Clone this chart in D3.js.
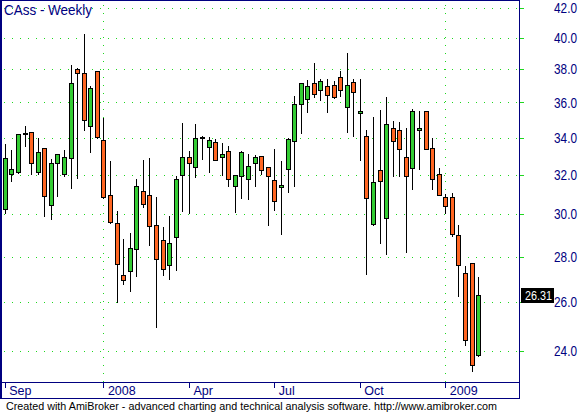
<!DOCTYPE html>
<html>
<head>
<meta charset="utf-8">
<script src="https://cdn.jsdelivr.net/npm/d3@7"></script>
<style>
    html, body { margin: 0; padding: 0; background: #ffffff; }
    svg { display: block; }
</style>
</head>
<body>
<div id="chart"></div>
<script>
// CAss - Weekly candlesticks, Sep 2007 .. Feb 2009 (one bar per week)
const chartTitle = 'CAss - Weekly';
const footerText = 'Created with AmiBroker - advanced charting and technical analysis software. http://www.amibroker.com';

const opens = [
    30.28, 32.02, 32.13, 34.23, 34.30, 32.13, 33.42, 30.45, 32.61, 32.02,
    32.88, 38.03, 37.78, 34.67, 37.90, 33.87, 30.96, 29.57, 27.19, 27.33,
    28.35, 31.16, 30.96, 29.47, 28.77, 27.61, 28.92, 31.97, 32.93, 32.40,
    34.03, 33.48, 33.74, 32.93, 33.26, 31.41, 31.92, 31.77, 32.61, 32.98,
    32.40, 31.72, 31.36, 32.29, 33.80, 35.90, 36.19, 37.16, 36.74, 36.98,
    37.04, 37.52, 35.73, 37.22, 35.38, 34.07, 29.52, 32.24, 29.84, 34.53,
    34.41, 32.93, 32.35, 34.41, 35.50, 33.42, 32.02, 30.86, 30.86, 29.01,
    27.27, 27.71, 23.84
];
const highs = [
    33.69, 33.37, 34.25, 34.70, 34.32, 34.05, 33.45, 32.88, 33.16, 33.38,
    38.34, 38.15, 40.33, 37.06, 37.95, 35.15, 32.79, 30.22, 28.87, 29.16,
    31.82, 32.83, 32.93, 30.92, 29.43, 29.97, 31.98, 34.89, 33.34, 34.81,
    34.14, 34.09, 33.96, 33.74, 33.58, 32.02, 33.32, 33.17, 33.10, 33.00,
    32.42, 33.42, 32.77, 34.03, 36.44, 37.18, 37.40, 38.47, 37.46, 37.46,
    37.34, 37.96, 39.10, 37.46, 37.46, 34.49, 35.21, 35.63, 36.41, 35.00,
    34.94, 34.60, 35.67, 35.57, 35.52, 34.01, 32.40, 31.06, 31.11, 29.52,
    27.62, 27.74, 27.11
];
const lows = [
    30.05, 31.65, 32.08, 33.51, 32.02, 32.02, 29.89, 29.79, 30.89, 31.93,
    31.29, 31.82, 34.43, 33.20, 34.00, 30.80, 29.58, 25.99, 26.79, 26.45,
    27.11, 30.38, 28.55, 24.97, 27.15, 27.00, 27.41, 30.18, 30.05, 31.90,
    32.83, 32.15, 32.75, 31.97, 31.41, 30.13, 30.79, 30.74, 31.41, 32.02,
    29.46, 30.23, 29.04, 31.09, 31.41, 34.24, 35.44, 36.31, 36.13, 35.44,
    36.28, 36.37, 34.33, 34.10, 32.75, 27.21, 29.50, 28.62, 28.11, 31.93,
    31.93, 28.20, 31.27, 32.29, 33.36, 31.27, 30.94, 30.05, 28.96, 26.25,
    24.23, 23.24, 23.82
];
const closes = [
    32.88, 32.29, 34.18, 34.23, 32.61, 33.20, 30.91, 32.61, 33.10, 32.93,
    37.18, 37.76, 34.96, 36.86, 34.05, 30.84, 29.60, 27.64, 26.94, 28.39,
    31.41, 30.50, 29.43, 27.88, 27.44, 28.62, 31.77, 32.93, 32.61, 33.96,
    34.03, 33.85, 32.77, 33.10, 31.77, 31.97, 33.20, 32.45, 32.93, 32.24,
    31.92, 30.65, 31.46, 33.90, 35.90, 37.16, 36.98, 36.50, 37.28, 36.44,
    36.31, 36.74, 37.04, 36.62, 35.49, 30.81, 31.62, 31.67, 34.75, 33.81,
    33.38, 31.92, 35.50, 34.54, 33.38, 31.77, 30.96, 30.41, 29.05, 27.61,
    24.44, 23.46, 26.31
];

const priceTicks = [24, 26, 28, 30, 32, 34, 36, 38, 40, 42];
const timeTickBars = [0, 15, 28, 41, 54, 67];
const timeTickLabels = ['Sep', '2008', 'Apr', 'Jul', 'Oct', '2009'];
const yearBars = [15, 67];

const W = 580, H = 412;
const plot = { left: 0, right: 519, top: 0, bottom: 382 };
const navy = '#000080';
const gridGreen = '#1fd81f';
const upColor = '#33cc33';
const downColor = '#ff6622';
const font = '"Liberation Sans", Arial, sans-serif';

const svg = d3.select('#chart')
    .append('svg')
    .attr('width', W)
    .attr('height', H)
    .style('font-family', font);

svg.append('rect')
    .attr('width', W)
    .attr('height', H)
    .attr('fill', '#ffffff');

const n = opens.length;
const x = d3.scaleBand()
    .domain(d3.range(n))
    .range([2, 2 + n * 6.575]);
const y = d3.scaleLog()
    .domain([24, 42])
    .range([351, 8]);

const cx = i => Math.floor(x(i) + x.bandwidth() / 2) + 0.5;
const py = v => Math.round(y(v)) + 0.5;

// dotted grid
const grid = svg.append('g')
    .attr('stroke', gridGreen)
    .attr('stroke-width', 1)
    .attr('stroke-dasharray', '1,7')
    .attr('shape-rendering', 'crispEdges');

grid.selectAll('.hgrid')
    .data(priceTicks)
    .join('line')
    .attr('class', 'hgrid')
    .attr('x1', 4)
    .attr('x2', plot.right)
    .attr('y1', d => py(d))
    .attr('y2', d => py(d));

grid.selectAll('.vgrid')
    .data(yearBars)
    .join('line')
    .attr('class', 'vgrid')
    .attr('x1', d => cx(d))
    .attr('x2', d => cx(d))
    .attr('y1', 5)
    .attr('y2', plot.bottom);

// candles
const bars = svg.append('g')
    .attr('shape-rendering', 'crispEdges')
    .selectAll('g')
    .data(d3.range(n))
    .join('g');

bars.append('line')
    .attr('x1', i => cx(i))
    .attr('x2', i => cx(i))
    .attr('y1', i => py(highs[i]))
    .attr('y2', i => py(lows[i]))
    .attr('stroke', '#000')
    .attr('stroke-width', 1);

bars.append('rect')
    .attr('x', i => cx(i) - 2)
    .attr('width', 4)
    .attr('y', i => py(Math.max(opens[i], closes[i])))
    .attr('height', i => Math.max(1, py(Math.min(opens[i], closes[i])) - py(Math.max(opens[i], closes[i]))))
    .attr('fill', i => closes[i] > opens[i] ? upColor : (closes[i] < opens[i] ? downColor : '#000'))
    .attr('stroke', '#000')
    .attr('stroke-width', 1);

// right price axis
const yAxis = d3.axisRight(y)
    .tickValues(priceTicks)
    .tickFormat(d3.format('.1f'))
    .tickSize(5)
    .tickPadding(0);

const ya = svg.append('g')
    .attr('transform', `translate(${plot.right}, 0)`)
    .call(yAxis);
ya.select('.domain').remove();
ya.selectAll('line')
    .attr('stroke', gridGreen)
    .attr('shape-rendering', 'crispEdges');
// AmiBroker's axis font is narrow: squeeze the glyphs horizontally
ya.selectAll('text')
    .attr('fill', navy)
    .attr('font-family', font)
    .attr('font-size', '14.5px')
    .attr('x', 0)
    .attr('transform', 'translate(35, 0) scale(0.815, 1)');

// bottom time axis
const xAxis = d3.axisBottom(x)
    .tickValues(timeTickBars)
    .tickFormat((d, k) => timeTickLabels[k])
    .tickSize(5)
    .tickPadding(0);

const xa = svg.append('g')
    .attr('transform', `translate(0, ${plot.bottom + 0.5})`)
    .call(xAxis);
xa.select('.domain').remove();
xa.selectAll('line')
    .attr('stroke', navy)
    .attr('shape-rendering', 'crispEdges');
xa.selectAll('text')
    .attr('fill', navy)
    .attr('font-family', font)
    .attr('font-size', '12.5px')
    .attr('text-anchor', 'start')
    .attr('x', 4)
    .attr('y', 12)
    .attr('dy', 0);

// frame
const frame = svg.append('g')
    .attr('stroke', navy)
    .attr('stroke-width', 1)
    .attr('fill', 'none')
    .attr('shape-rendering', 'crispEdges');
frame.append('rect')
    .attr('x', 0.5)
    .attr('y', 0.5)
    .attr('width', plot.right)
    .attr('height', 398);
frame.append('line')
    .attr('x1', 1.5).attr('x2', 1.5)
    .attr('y1', 0).attr('y2', 399);
frame.append('line')
    .attr('x1', 0).attr('x2', plot.right + 0.5)
    .attr('y1', plot.bottom + 0.5).attr('y2', plot.bottom + 0.5);

// last close marker
const last = closes[n - 1];
svg.append('rect')
    .attr('x', 521)
    .attr('y', Math.round(y(last)) - 7)
    .attr('width', 33)
    .attr('height', 15)
    .attr('fill', '#000');
svg.append('text')
    .attr('x', 525)
    .attr('y', Math.round(y(last)) + 4.5)
    .attr('fill', '#fff')
    .attr('font-size', '12px')
    .attr('textLength', 27)
    .attr('lengthAdjust', 'spacingAndGlyphs')
    .text(last.toFixed(2));

// title and footer
svg.append('text')
    .attr('x', 4)
    .attr('y', 15)
    .attr('fill', navy)
    .attr('font-size', '15px')
    .attr('textLength', 88)
    .attr('lengthAdjust', 'spacingAndGlyphs')
    .text(chartTitle);

svg.append('text')
    .attr('x', 6)
    .attr('y', 410)
    .attr('fill', '#000')
    .attr('font-size', '11px')
    .attr('textLength', 491)
    .attr('lengthAdjust', 'spacingAndGlyphs')
    .text(footerText);
</script>
</body>
</html>
